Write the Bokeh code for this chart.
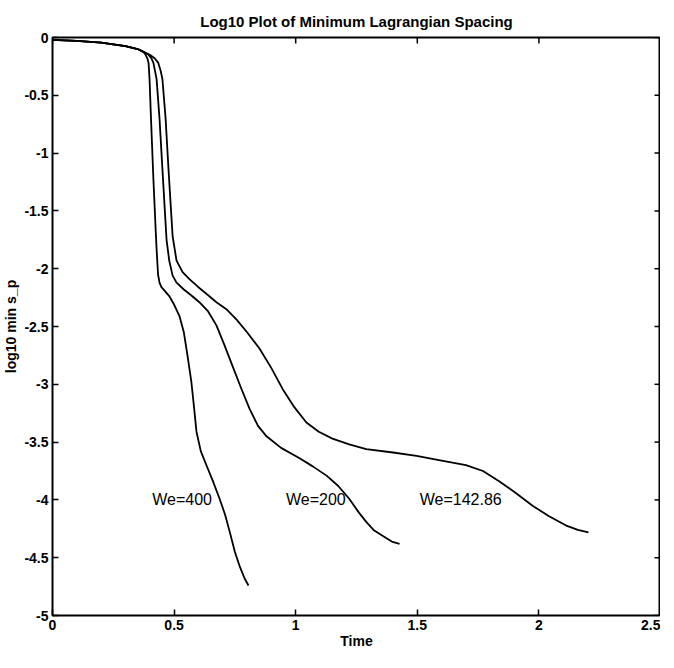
import math
from bokeh.plotting import figure
from bokeh.models import FixedTicker, Range1d, Label
from bokeh.embed import file_html
from bokeh.resources import INLINE

# shared early part of all three runs
t_common = [0.0, 0.1, 0.2, 0.3, 0.35, 0.37]
y_common = [-0.02, -0.03, -0.045, -0.075, -0.10, -0.12]

t_we400 = [0.38, 0.39, 0.395, 0.399, 0.405, 0.415, 0.425, 0.428, 0.434, 0.440, 0.448, 0.465,
           0.481, 0.500, 0.522, 0.540, 0.555, 0.571, 0.582, 0.592, 0.610, 0.633, 0.660, 0.687,
           0.710, 0.728, 0.750, 0.769, 0.790, 0.806]
y_we400 = [-0.14, -0.18, -0.22, -0.36, -0.70, -1.23, -1.70, -1.83, -2.05, -2.12, -2.16, -2.20,
           -2.24, -2.31, -2.41, -2.55, -2.75, -2.98, -3.20, -3.41, -3.58, -3.70, -3.84, -3.99,
           -4.13, -4.27, -4.45, -4.57, -4.68, -4.74]

t_we200 = [0.38, 0.395, 0.407, 0.415, 0.428, 0.440, 0.452, 0.462, 0.469, 0.480, 0.494, 0.510,
           0.540, 0.570, 0.604, 0.640, 0.674, 0.705, 0.740, 0.775, 0.810, 0.845, 0.880, 0.940,
           1.016, 1.070, 1.127, 1.175, 1.220, 1.260, 1.290, 1.320, 1.357, 1.395, 1.427]
y_we200 = [-0.13, -0.15, -0.18, -0.22, -0.36, -0.70, -1.14, -1.50, -1.75, -1.93, -2.06, -2.12,
           -2.18, -2.23, -2.29, -2.37, -2.49, -2.65, -2.84, -3.03, -3.21, -3.36, -3.45, -3.55,
           -3.64, -3.71, -3.79, -3.88, -3.99, -4.11, -4.19, -4.26, -4.31, -4.36, -4.38]

t_we142 = [0.38, 0.40, 0.42, 0.435, 0.445, 0.452, 0.465, 0.477, 0.486, 0.494, 0.510, 0.535,
           0.563, 0.600, 0.640, 0.674, 0.715, 0.757, 0.800, 0.851, 0.900, 0.946, 0.995, 1.044,
           1.095, 1.151, 1.220, 1.290, 1.400, 1.497, 1.600, 1.700, 1.770, 1.838, 1.905, 1.974,
           2.040, 2.110, 2.160, 2.204]
y_we142 = [-0.13, -0.15, -0.18, -0.22, -0.29, -0.36, -0.70, -1.14, -1.45, -1.72, -1.93, -2.03,
           -2.09, -2.16, -2.23, -2.29, -2.35, -2.44, -2.55, -2.69, -2.86, -3.04, -3.20, -3.33,
           -3.41, -3.47, -3.52, -3.56, -3.59, -3.62, -3.66, -3.70, -3.75, -3.84, -3.94, -4.05,
           -4.14, -4.22, -4.26, -4.28]

labels = ["We=400", "We=200", "We=142.86"]
label_x = [0.41, 0.96, 1.51]
label_y = [-4.0, -4.0, -4.0]

x_ticks = [0, 0.5, 1, 1.5, 2, 2.5]
x_tick_labels = ["0", "0.5", "1", "1.5", "2", "2.5"]
y_ticks = [0, -0.5, -1, -1.5, -2, -2.5, -3, -3.5, -4, -4.5, -5]
y_tick_labels = ["0", "-0.5", "-1", "-1.5", "-2", "-2.5", "-3", "-3.5", "-4", "-4.5", "-5"]

FONT = "Liberation Sans"

p = figure(frame_width=608, frame_height=578, output_backend="svg", toolbar_location=None,
           x_range=Range1d(0, 2.5), y_range=Range1d(-5, 0),
           title="Log10 Plot of Minimum Lagrangian Spacing",
           min_border_left=45, min_border_right=0, min_border_top=37, min_border_bottom=37)

p.grid.visible = False
p.background_fill_color = "white"
p.border_fill_color = "white"
p.outline_line_color = "black"
p.outline_line_width = 2

p.title.align = "center"
p.title.text_font = FONT
p.title.text_font_size = "15px"
p.title.text_font_style = "bold"
p.title.text_color = "black"
p.title.standoff = 16

for ax in p.xaxis + p.yaxis:
    ax.axis_line_color = None
    ax.major_tick_in = 6
    ax.major_tick_out = 0
    ax.minor_tick_line_color = None
    ax.major_tick_line_color = "black"
    ax.major_tick_line_width = 1.5
    ax.major_label_text_font = FONT
    ax.major_label_text_font_size = "14px"
    ax.major_label_text_font_style = "bold"
    ax.major_label_text_color = "black"
    ax.axis_label_text_font = FONT
    ax.axis_label_text_font_size = "14px"
    ax.axis_label_text_font_style = "bold"
    ax.axis_label_text_color = "black"

p.xaxis.ticker = FixedTicker(ticks=x_ticks)
p.yaxis.ticker = FixedTicker(ticks=y_ticks)
p.xaxis.axis_label = "Time"
p.yaxis.axis_label = "log10 min s_p"
p.xaxis.major_label_standoff = 4
p.yaxis.major_label_standoff = 4
p.xaxis.axis_label_standoff = 0
p.yaxis.axis_label_standoff = 2
p.xaxis.major_label_overrides = dict(zip(x_ticks, x_tick_labels))
p.yaxis.major_label_overrides = dict(zip(y_ticks, y_tick_labels))

# inward ticks on the right and top edges of the box (half of each dash is clipped)
p.scatter(x=[2.5] * len(y_ticks), y=y_ticks, marker="dash", size=12,
          line_color="black", line_width=1.5)
p.scatter(x=x_ticks, y=[0] * len(x_ticks), marker="dash", size=12, angle=math.pi / 2,
          line_color="black", line_width=1.5)

for tx, ty in ((t_we400, y_we400), (t_we200, y_we200), (t_we142, y_we142)):
    p.line(t_common + tx, y_common + ty, line_color="black", line_width=1.8,
           line_join="round")

for txt, lx, ly in zip(labels, label_x, label_y):
    p.add_layout(Label(x=lx, y=ly, text=txt, text_font=FONT, text_font_size="16px",
                       text_baseline="middle", text_align="left", text_color="black"))

open("out.html", "w").write(file_html(p, INLINE))
